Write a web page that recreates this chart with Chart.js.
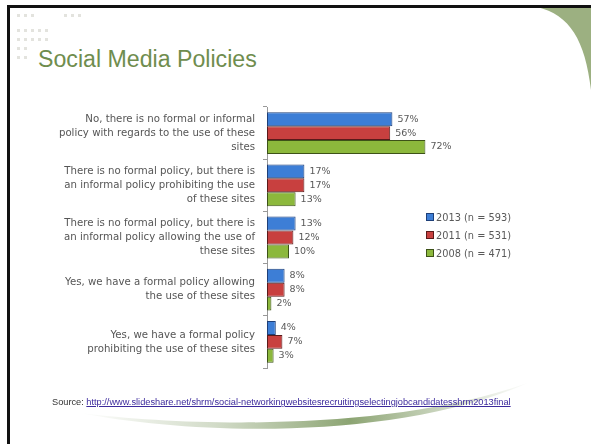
<!DOCTYPE html>
<html>
<head>
<meta charset="utf-8">
<script src="https://cdn.jsdelivr.net/npm/chart.js@4/dist/chart.umd.min.js"></script>
<style>
  html, body { margin: 0; padding: 0; background: #fff; }
  #slide { position: relative; width: 591px; height: 444px; overflow: hidden; background: #fff; }
  #deco { position: absolute; left: 0; top: 0; }
  #title { position: absolute; left: 38px; top: 44px; font-family: "Liberation Sans", Arial, sans-serif; font-size: 23px; color: #6F8D4E; white-space: nowrap; line-height: 30px; }
  #chartWrap { position: absolute; left: 0; top: 0; width: 591px; height: 444px; }
  #legend { position: absolute; left: 426px; top: 208px; font-family: "DejaVu Sans", sans-serif; font-size: 9.8px; color: #595959; }
  .lg { height: 18px; display: flex; align-items: center; white-space: nowrap; }
  .sw { width: 6px; height: 6px; border: 1px solid #333; margin-right: 2px; box-sizing: content-box; }
  #source { position: absolute; left: 52px; top: 397px; font-family: "Liberation Sans", Arial, sans-serif; font-size: 8px; color: #333; white-space: nowrap; }
  #source a { color: #3C2A9C; text-decoration: underline; }
</style>
</head>
<body>
<div id="slide">
  <svg id="deco" width="591" height="444">
    <defs>
      <linearGradient id="sw" x1="80" y1="0" x2="530" y2="0" gradientUnits="userSpaceOnUse">
        <stop offset="0" stop-color="#8FA676" stop-opacity="0"/>
        <stop offset="0.3" stop-color="#8FA676" stop-opacity="0.4"/>
        <stop offset="0.6" stop-color="#7F9A63" stop-opacity="0.9"/>
        <stop offset="0.85" stop-color="#8FA676" stop-opacity="0.35"/>
        <stop offset="1" stop-color="#8FA676" stop-opacity="0"/>
      </linearGradient>
    </defs>
    <path d="M80,413 C 200,436 400,440 530,382 C 400,430 200,428 80,413 Z" fill="url(#sw)"/>
    <path d="M537,7 C 570,15 585,40 591,90 L591,7 Z" fill="#9CB081"/>
    <rect x="7" y="5" width="584" height="3" fill="#111"/>
    <rect x="7" y="5" width="3" height="439" fill="#111"/>
    <g fill="#E3E3DE">
      <rect x="17" y="14" width="3" height="3"/><rect x="24" y="14" width="3" height="3"/><rect x="31" y="14" width="3" height="3"/>
      <rect x="64" y="14" width="3" height="3"/><rect x="71" y="14" width="3" height="3"/><rect x="78" y="14" width="3" height="3"/>
      <rect x="17" y="29" width="3" height="3"/><rect x="24" y="29" width="3" height="3"/><rect x="31" y="29" width="3" height="3"/><rect x="38" y="29" width="3" height="3"/><rect x="45" y="29" width="3" height="3"/>
      <rect x="17" y="38" width="3" height="3"/><rect x="24" y="38" width="3" height="3"/><rect x="31" y="38" width="3" height="3"/><rect x="38" y="38" width="3" height="3"/><rect x="45" y="38" width="3" height="3"/>
      <rect x="17" y="47" width="3" height="3"/><rect x="24" y="47" width="3" height="3"/>
      <rect x="17" y="56" width="3" height="3"/><rect x="24" y="56" width="3" height="3"/>
    </g>
  </svg>
  <div id="title">Social Media Policies</div>
  <div id="chartWrap"><canvas id="c" width="591" height="444"></canvas></div>
  <div id="legend"></div>
  <div id="source">Source: <a href="#">http://www.slideshare.net/shrm/social-networkingwebsitesrecruitingselectingjobcandidatesshrm2013final</a></div>
</div>
<script>
const categories = [
  ["No, there is no formal or informal", "policy with regards to the use of these", "sites"],
  ["There is no formal policy, but there is", "an informal policy prohibiting the use", "of these sites"],
  ["There is no formal policy, but there is", "an informal policy allowing the use of", "these sites"],
  ["Yes, we have a formal policy allowing", "the use of these sites"],
  ["Yes, we have a formal policy", "prohibiting the use of these sites"]
];
const seriesNames = ["2013 (n = 593)", "2011 (n = 531)", "2008 (n = 471)"];
const values2013 = [57, 17, 13, 8, 4];
const values2011 = [56, 17, 12, 8, 7];
const values2008 = [72, 13, 10, 2, 3];

const fills = ["#3D7ED6", "#C8403F", "#8CB83C"];
const borders = ["#1E3F78", "#5A1A1A", "#3D5218"];
const seriesValues = [values2013, values2011, values2008];

const labelFont = '"DejaVu Sans", sans-serif';

const dataLabels = {
  id: 'dataLabels',
  afterDatasetsDraw(chart) {
    const ctx = chart.ctx;
    ctx.save();
    ctx.font = '9.5px ' + labelFont;
    ctx.fillStyle = '#595959';
    ctx.textAlign = 'left';
    ctx.textBaseline = 'middle';
    chart.data.datasets.forEach((ds, di) => {
      const meta = chart.getDatasetMeta(di);
      meta.data.forEach((bar, i) => {
        ctx.fillText(ds.data[i] + '%', bar.x + 5, bar.y);
      });
    });
    ctx.restore();
  }
};

new Chart(document.getElementById('c'), {
  type: 'bar',
  data: {
    labels: categories,
    datasets: seriesNames.map((n, i) => ({
      label: n,
      data: seriesValues[i],
      backgroundColor: fills[i],
      borderColor: borders[i],
      borderWidth: 1,
      borderSkipped: false,
      categoryPercentage: 0.8,
      barPercentage: 1.0
    }))
  },
  options: {
    indexAxis: 'y',
    responsive: false,
    animation: false,
    devicePixelRatio: 1,
    layout: { padding: { left: 0, top: 107, bottom: 76, right: 148 } },
    plugins: { legend: { display: false }, tooltip: { enabled: false } },
    scales: {
      x: { display: false, min: 0, max: 80 },
      y: {
        afterFit(scale) { scale.width = 267; },
        grid: { offset: true, drawOnChartArea: false, tickLength: 4, color: '#999' },
        border: { color: '#999', width: 1 },
        ticks: {
          padding: 8,
          color: '#555555',
          font: { family: labelFont, size: 10.2, lineHeight: 1.38 }
        }
      }
    }
  },
  plugins: [dataLabels]
});

const lg = document.getElementById('legend');
seriesNames.forEach((n, i) => {
  const row = document.createElement('div');
  row.className = 'lg';
  const sw = document.createElement('div');
  sw.className = 'sw';
  sw.style.background = fills[i];
  sw.style.borderColor = borders[i];
  row.appendChild(sw);
  row.appendChild(document.createTextNode(n));
  lg.appendChild(row);
});

// fit source line to the reference width
const src = document.getElementById('source');
const w = src.getBoundingClientRect().width;
src.style.fontSize = (8 * 459 / w) + 'px';
// fit title width
const t = document.getElementById('title');
const tw = t.getBoundingClientRect().width;
t.style.fontSize = (23 * 219 / tw) + 'px';
</script>
</body>
</html>
